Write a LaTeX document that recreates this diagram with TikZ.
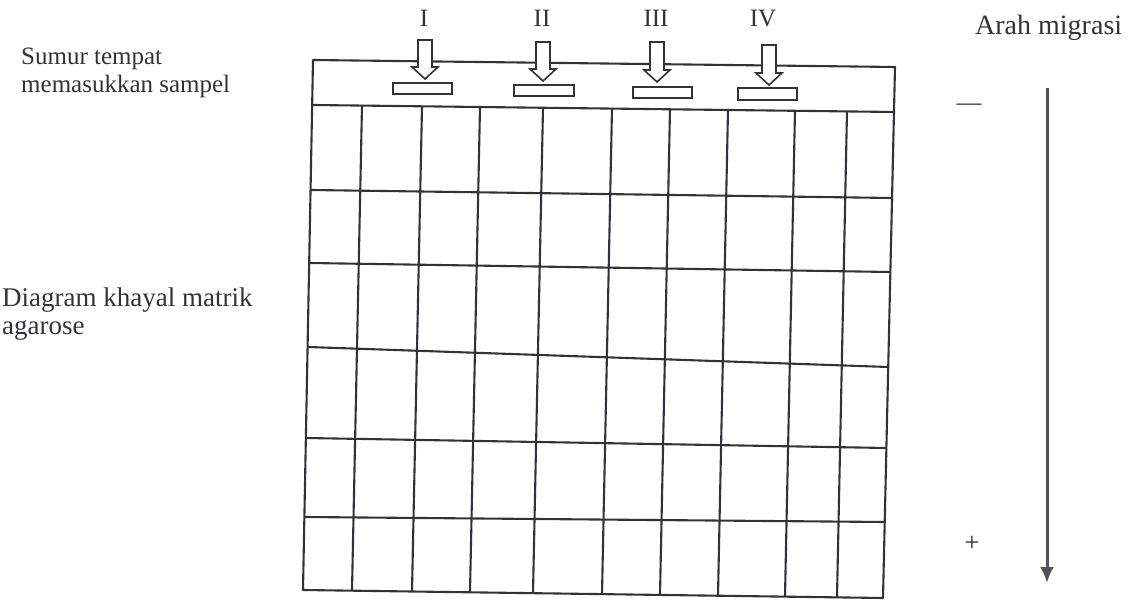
\documentclass[tikz,border=0pt]{standalone}
\usepackage{fontspec}
\setmainfont{Liberation Serif}
\usetikzlibrary{arrows.meta}
\definecolor{ink}{HTML}{35313A}
\tikzset{
  lbl/.style={font=\fontsize{25}{28}\selectfont, text=ink, inner sep=0pt},
  gridline/.style={draw=ink, line width=2.1pt},
  well/.style={draw=ink, line width=1.7pt, fill=white, inner sep=0pt},
  blockarrow/.style={draw=ink, line width=1.6pt, fill=white, line join=miter},
  migr/.style={draw=ink!85, line width=3pt, -{Latex[length=16pt,width=14pt]}}
}
\begin{document}
\begin{tikzpicture}[x=1pt,y=-1pt]
\useasboundingbox (0,0) rectangle (1136,601);
% gel outline
\draw[gridline, line join=round] (313,60) -- (895,67) -- (883,598) -- (303,590) -- cycle;
\draw[gridline] (313,105) -- (895,112);
% vertical lines
\foreach \xt/\yt/\xb/\yb in {362/105.6/352/590.7, 422/106.3/412/591.5, 480/107.0/470/592.3,
  543/107.8/533/593.2, 612/108.6/602/594.1, 670/109.3/660/594.9, 728/110.0/718/595.7,
  795/110.8/785/596.6, 847/111.4/837/597.4}
  \draw[gridline] (\xt,\yt) -- (\xb,\yb);
% horizontal lines
\foreach \xl/\yl/\xr/\yr in {311.2/190/892.0/198, 309.7/263/890.4/272, 308.0/347/888.2/367,
  306.1/438/886.4/448, 304.5/517/884.7/522}
  \draw[gridline] (\xl,\yl) -- (\xr,\yr);
% wells
\node[well, minimum width=59pt, minimum height=11pt] (w1) at (422.5,88.5) {};
\node[well, minimum width=60pt, minimum height=11pt] (w2) at (544,90.5) {};
\node[well, minimum width=59pt, minimum height=11pt] (w3) at (662.5,92.5) {};
\node[well, minimum width=59pt, minimum height=12pt] (w4) at (767.5,94) {};
% block arrows
\foreach \cx/\ty/\tip in {425/40/79, 543/42/81, 657/42/82, 769/45/85}{
  \pgfmathsetmacro{\hs}{\tip-12}
  \draw[blockarrow] (\cx-7,\ty) -- (\cx+7,\ty) -- (\cx+7,\hs) -- (\cx+13,\hs) -- (\cx,\tip)
     -- (\cx-13,\hs) -- (\cx-7,\hs) -- cycle;
}
% lane labels
\node[lbl, anchor=base] (l1) at (424,27) {I};
\node[lbl, anchor=base] (l2) at (542,27) {II};
\node[lbl, anchor=base] (l3) at (656,27) {III};
\node[lbl, anchor=base] (l4) at (763,27) {IV};
% left labels (base anchor = baseline of last line)
\node[lbl, anchor=base west, align=left] (t1) at (21,93) {Sumur tempat\\memasukkan sampel};
\node[lbl, anchor=base west, align=left, font=\fontsize{27}{28}\selectfont] (t2) at (2,335) {Diagram khayal matrik\\agarose};
% migration direction
\node[lbl, anchor=base west, font=\fontsize{28}{30}\selectfont] (t3) at (975,35) {Arah migrasi};
\node[lbl] (minus) at (969,107) {—};
\node[lbl, font=\fontsize{27}{30}\selectfont] (plus) at (972,544) {+};
\coordinate (mtop) at (1047,88);
\coordinate (mbot) at (1047,583);
\draw[migr] (mtop) -- (mbot);
\end{tikzpicture}
\end{document}
